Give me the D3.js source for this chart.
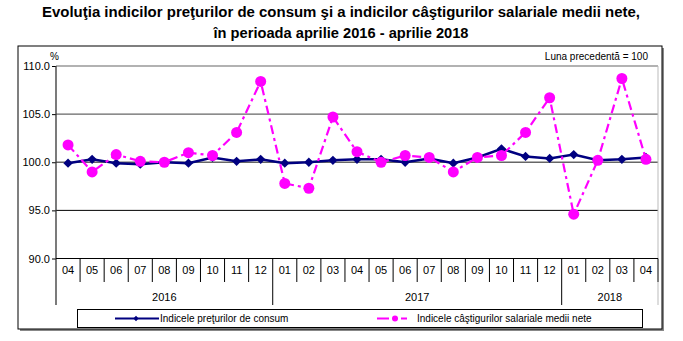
<!DOCTYPE html>
<html>
<head>
<meta charset="utf-8">
<script src="https://cdn.jsdelivr.net/npm/d3@7"></script>
<style>
  body { margin: 0; background: #fff; }
  svg { display: block; font-family: "Liberation Sans", Arial, sans-serif; }
</style>
</head>
<body>
<div id="chart"></div>
<script>
// months Apr 2016 - Apr 2018
const months = ["04","05","06","07","08","09","10","11","12",
  "01","02","03","04","05","06","07","08","09","10","11","12",
  "01","02","03","04"];
const years = [
  { label: "2016", from: 0, to: 9 },
  { label: "2017", from: 9, to: 21 },
  { label: "2018", from: 21, to: 25 }
];
const cpi = [99.9, 100.3, 99.9, 99.8, 100.0, 99.9, 100.5, 100.1, 100.3,
  99.9, 100.0, 100.2, 100.3, 100.3, 100.0, 100.4, 99.9, 100.5, 101.4, 100.6, 100.4,
  100.8, 100.2, 100.3, 100.5];
const salary = [101.8, 99.0, 100.8, 100.1, 100.0, 101.0, 100.7, 103.1, 108.4,
  97.8, 97.3, 104.7, 101.1, 100.0, 100.7, 100.5, 99.0, 100.5, 100.7, 103.1, 106.7,
  94.6, 100.2, 108.7, 100.3];
const yTicks = [90, 95, 100, 105, 110];

const W = 683, H = 341;
const plot = { left: 56, right: 658, top: 66, bottom: 258.5 };

const svg = d3.select("#chart").append("svg")
  .attr("width", W)
  .attr("height", H);

// title
const title = svg.append("g")
  .attr("font-weight", "bold")
  .attr("font-size", 14)
  .attr("text-anchor", "middle")
  .attr("fill", "#000");
title.append("text")
  .attr("x", 341).attr("y", 17)
  .attr("textLength", 598).attr("lengthAdjust", "spacingAndGlyphs")
  .text("Evoluţia indicilor preţurilor de consum şi a indicilor câştigurilor salariale medii nete,");
title.append("text")
  .attr("x", 341).attr("y", 38)
  .attr("textLength", 255).attr("lengthAdjust", "spacingAndGlyphs")
  .text("în perioada aprilie 2016 - aprilie 2018");

// outer frame with shadow
svg.append("rect")
  .attr("x", 20).attr("y", 48).attr("width", 644).attr("height", 283)
  .attr("fill", "#888");
svg.append("rect")
  .attr("x", 18).attr("y", 46).attr("width", 644).attr("height", 283)
  .attr("fill", "#fff").attr("stroke", "#000").attr("stroke-width", 1);

const x = d3.scaleBand()
  .domain(d3.range(months.length))
  .range([plot.left, plot.right]);

const y = d3.scaleLinear()
  .domain([90, 110])
  .range([plot.bottom, plot.top]);

// gridlines
svg.append("g")
  .selectAll("line")
  .data(yTicks.filter(d => d > 90))
  .join("line")
  .attr("x1", plot.left).attr("x2", plot.right)
  .attr("y1", d => y(d)).attr("y2", d => y(d))
  .attr("stroke", d => d === 95 ? "#000" : (d === 110 ? "#999" : "#666"))
  .attr("stroke-width", d => d === 95 ? 1 : 1.4);

// right border of plot area
svg.append("line")
  .attr("x1", plot.right).attr("x2", plot.right)
  .attr("y1", plot.top).attr("y2", plot.bottom)
  .attr("stroke", "#bbb");

// y axis
const yAxis = svg.append("g")
  .attr("transform", `translate(${plot.left},0)`)
  .call(d3.axisLeft(y).tickValues(yTicks).tickFormat(d3.format(".1f")).tickSize(4).tickPadding(2));
yAxis.select(".domain").remove();
yAxis.selectAll(".tick line").attr("stroke", "#000");
yAxis.selectAll(".tick text")
  .attr("font-size", 11)
  .attr("font-family", "Liberation Sans, Arial, sans-serif")
  .attr("fill", "#000");
svg.append("line")
  .attr("x1", plot.left).attr("x2", plot.left)
  .attr("y1", plot.top).attr("y2", 305)
  .attr("stroke", "#333").attr("stroke-width", 1.3);

// x axis line
svg.append("line")
  .attr("x1", plot.left).attr("x2", plot.right)
  .attr("y1", plot.bottom).attr("y2", plot.bottom)
  .attr("stroke", "#000");

// month separators
svg.append("g")
  .selectAll("line")
  .data(d3.range(1, months.length + 1))
  .join("line")
  .attr("x1", i => i === months.length ? plot.right : x(i))
  .attr("x2", i => i === months.length ? plot.right : x(i))
  .attr("y1", plot.bottom).attr("y2", 282)
  .attr("stroke", "#000");

// year separators
svg.append("g")
  .selectAll("line")
  .data(years.map(d => d.to))
  .join("line")
  .attr("x1", i => i === months.length ? plot.right : x(i))
  .attr("x2", i => i === months.length ? plot.right : x(i))
  .attr("y1", 282).attr("y2", 305)
  .attr("stroke", i => i === months.length ? "#bbb" : "#000");

// month labels
svg.append("g")
  .selectAll("text")
  .data(months)
  .join("text")
  .attr("x", (d, i) => x(i) + x.bandwidth() / 2)
  .attr("y", 274)
  .attr("text-anchor", "middle")
  .attr("font-size", 11)
  .text(d => d);

// year labels
svg.append("g")
  .selectAll("text")
  .data(years)
  .join("text")
  .attr("x", d => (x(d.from) + (d.to === months.length ? plot.right : x(d.to))) / 2)
  .attr("y", 301)
  .attr("text-anchor", "middle")
  .attr("font-size", 11)
  .text(d => d.label);

// corner texts
svg.append("text")
  .attr("x", 50).attr("y", 60)
  .attr("font-size", 10)
  .text("%");
svg.append("text")
  .attr("x", 648).attr("y", 60)
  .attr("text-anchor", "end")
  .attr("font-size", 10)
  .text("Luna precedentă = 100");

const cx = i => x(i) + x.bandwidth() / 2;

// CPI line
svg.append("path")
  .datum(cpi)
  .attr("fill", "none")
  .attr("stroke", "#000080")
  .attr("stroke-width", 2.5)
  .attr("d", d3.line().x((d, i) => cx(i)).y(d => y(d)));

const diamond = d3.symbol().type(d3.symbolDiamond2).size(55);
svg.append("g")
  .selectAll("path")
  .data(cpi)
  .join("path")
  .attr("transform", (d, i) => `translate(${cx(i)},${y(d)})`)
  .attr("d", diamond)
  .attr("fill", "#000080");

// salary line
svg.append("path")
  .datum(salary)
  .attr("fill", "none")
  .attr("stroke", "#ff00ff")
  .attr("stroke-width", 2.2)
  .attr("stroke-dasharray", "9,4,3,4")
  .attr("d", d3.line().x((d, i) => cx(i)).y(d => y(d)));

svg.append("g")
  .selectAll("circle")
  .data(salary)
  .join("circle")
  .attr("cx", (d, i) => cx(i))
  .attr("cy", d => y(d))
  .attr("r", 5.5)
  .attr("fill", "#ff00ff");

// legend
const lg = svg.append("g");
lg.append("rect")
  .attr("x", 77.5).attr("y", 309.5).attr("width", 565).attr("height", 18)
  .attr("fill", "#fff").attr("stroke", "#000");
lg.append("line")
  .attr("x1", 115).attr("x2", 159).attr("y1", 318.5).attr("y2", 318.5)
  .attr("stroke", "#000080").attr("stroke-width", 2);
lg.append("path")
  .attr("transform", "translate(136,318.5)")
  .attr("d", d3.symbol().type(d3.symbolDiamond2).size(18))
  .attr("fill", "#000080");
lg.append("text")
  .attr("x", 160).attr("y", 322)
  .attr("font-size", 10)
  .text("Indicele preţurilor de consum");
lg.append("line")
  .attr("x1", 377).attr("x2", 416).attr("y1", 318.5).attr("y2", 318.5)
  .attr("stroke", "#ff00ff").attr("stroke-width", 2)
  .attr("stroke-dasharray", "12,4,4,4,6");
lg.append("circle")
  .attr("cx", 395).attr("cy", 318.5).attr("r", 3)
  .attr("fill", "#ff00ff");
lg.append("text")
  .attr("x", 417).attr("y", 322)
  .attr("font-size", 10)
  .text("Indicele câştigurilor salariale medii nete");
</script>
</body>
</html>
